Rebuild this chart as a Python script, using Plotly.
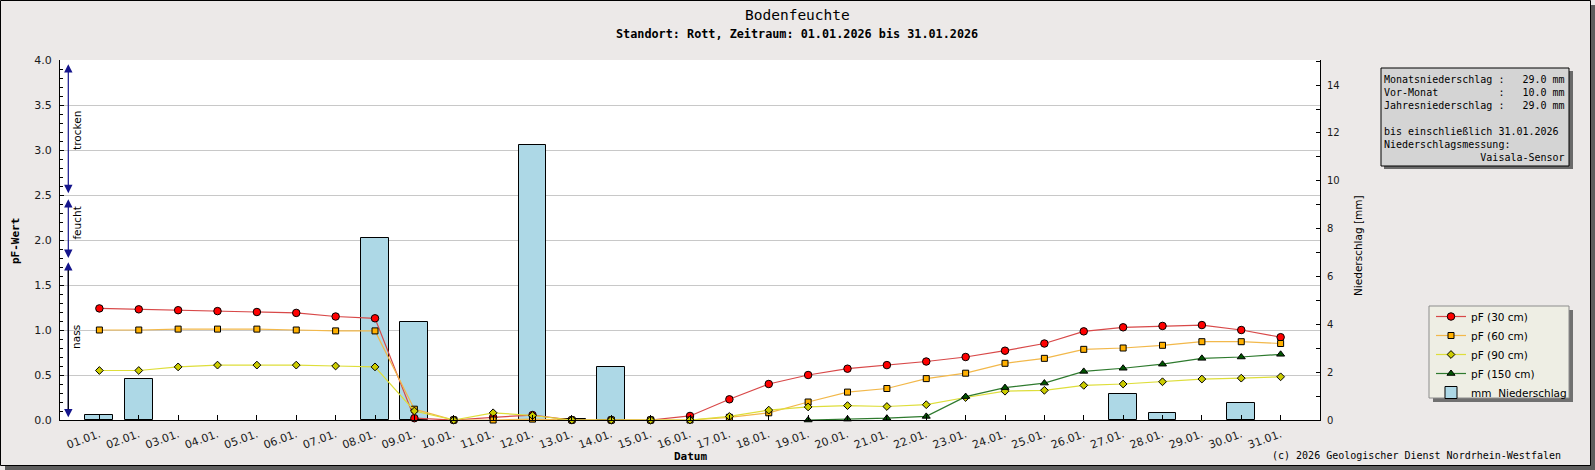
import plotly.graph_objects as go

# ---------------- data ----------------
dates = ["01.01.", "02.01.", "03.01.", "04.01.", "05.01.", "06.01.", "07.01.", "08.01.",
         "09.01.", "10.01.", "11.01.", "12.01.", "13.01.", "14.01.", "15.01.", "16.01.",
         "17.01.", "18.01.", "19.01.", "20.01.", "21.01.", "22.01.", "23.01.", "24.01.",
         "25.01.", "26.01.", "27.01.", "28.01.", "29.01.", "30.01.", "31.01."]

pf30 = [1.24, 1.23, 1.22, 1.21, 1.20, 1.19, 1.15, 1.13, 0.02, 0.00, 0.03, 0.055, 0.00, 0.00, 0.00, 0.045,
        0.23, 0.40, 0.50, 0.57, 0.61, 0.65, 0.70, 0.77, 0.85, 0.985, 1.03, 1.045, 1.055, 1.00, 0.92]
pf60 = [1.00, 1.00, 1.01, 1.01, 1.01, 1.00, 0.99, 0.99, 0.12, 0.00, 0.00, 0.01, 0.00, 0.00, 0.00, 0.00,
        0.03, 0.08, 0.20, 0.31, 0.35, 0.46, 0.52, 0.63, 0.685, 0.785, 0.80, 0.83, 0.87, 0.87, 0.85]
pf90 = [0.55, 0.55, 0.59, 0.61, 0.61, 0.61, 0.60, 0.59, 0.10, 0.00, 0.08, 0.05, 0.00, 0.00, 0.00, 0.00,
        0.04, 0.11, 0.145, 0.16, 0.15, 0.17, 0.25, 0.32, 0.33, 0.385, 0.40, 0.425, 0.455, 0.465, 0.48]
pf150 = [None, None, None, None, None, None, None, None, None, None, None, None, None, None, None, None,
         None, None, 0.00, 0.01, 0.02, 0.04, 0.26, 0.36, 0.41, 0.54, 0.575, 0.62, 0.685, 0.70, 0.73]
precip = [0.2, 1.7, None, None, None, None, None, 7.6, 4.1, None, None, 11.5, 0.05, 2.2, None, None,
          None, None, None, None, None, None, None, None, None, None, 1.1, 0.3, None, 0.7, None]

series_names = ["pF (30 cm)", "pF (60 cm)", "pF (90 cm)", "pF (150 cm)"]
bar_name = "mm\u00a0\u00a0Niederschlag"

info_lines = [
    "Monatsniederschlag :   29.0 mm",
    "Vor-Monat          :   10.0 mm",
    "Jahresniederschlag :   29.0 mm",
    "",
    "bis einschließlich 31.01.2026",
    "Niederschlagsmessung:",
    "                Vaisala-Sensor",
]

# ---------------- geometry helpers ----------------
W, H = 1595, 470
L, R, T, B = 60, 1320, 60, 420


def px(x):
    return (x - L) / (R - L)


def py(y):
    return (B - y) / (B - T)


MONO = "DejaVu Sans Mono"
SANS = "DejaVu Sans"

fig = go.Figure()

styles = [
    ("circle", 7.5, "#ff0000", "#d84848"),
    ("square", 6, "#ffb000", "#f2b84a"),
    ("diamond", 6, "#cccc00", "#dede3a"),
    ("triangle-up", 7, "#005500", "#2e7a2e"),
]
for name, vals, (sym, size, mcol, lcol) in zip(series_names, [pf30, pf60, pf90, pf150], styles):
    fig.add_trace(go.Scatter(
        x=dates, y=vals, name=name, mode="lines+markers", yaxis="y2",
        line=dict(color=lcol, width=1.2),
        marker=dict(symbol=sym, size=size, color=mcol, line=dict(color="black", width=1)),
        cliponaxis=False, connectgaps=False,
    ))

fig.add_trace(go.Bar(
    x=dates, y=precip, name=bar_name, yaxis="y", width=0.71,
    marker=dict(color="#add8e6", line=dict(color="black", width=1)),
))

shapes = []
# outer shadow and frame
shapes.append(dict(type="rect", xref="paper", yref="paper", x0=px(1590), x1=px(1596), y0=py(5), y1=py(471),
                   fillcolor="#5e5e5e", line=dict(width=0), layer="below"))
shapes.append(dict(type="rect", xref="paper", yref="paper", x0=px(5), x1=px(1596), y0=py(465), y1=py(471),
                   fillcolor="#5e5e5e", line=dict(width=0), layer="below"))
shapes.append(dict(type="rect", xref="paper", yref="paper", x0=px(0.5), x1=px(1590.5), y0=py(0.5), y1=py(465.5),
                   line=dict(color="black", width=1), fillcolor="rgba(0,0,0,0)", layer="below"))
# info box
shapes.append(dict(type="rect", xref="paper", yref="paper", x0=px(1384), x1=px(1573), y0=py(71), y1=py(169),
                   fillcolor="#6a6a6a", line=dict(width=0), layer="below"))
shapes.append(dict(type="rect", xref="paper", yref="paper", x0=px(1381), x1=px(1569), y0=py(68), y1=py(166),
                   fillcolor="#d4d4d4", line=dict(color="black", width=1), layer="below"))
# legend box
shapes.append(dict(type="rect", xref="paper", yref="paper", x0=px(1433), x1=px(1573), y0=py(310), y1=py(402),
                   fillcolor="#707070", line=dict(width=0), layer="below"))
shapes.append(dict(type="rect", xref="paper", yref="paper", x0=px(1429), x1=px(1569), y0=py(306), y1=py(398),
                   fillcolor="#eeeee4", line=dict(color="#8c8c8c", width=1), layer="below"))

ann = []
ann.append(dict(text="Bodenfeuchte", xref="paper", yref="paper", x=px(797), y=py(14.5), showarrow=False,
                font=dict(family=MONO, size=14.5, color="black"), xanchor="center", yanchor="middle"))
ann.append(dict(text="<b>Standort: Rott, Zeitraum: 01.01.2026 bis 31.01.2026</b>", xref="paper", yref="paper",
                x=px(797), y=py(34), showarrow=False, font=dict(family=MONO, size=11.8, color="black"),
                xanchor="center", yanchor="middle"))
ann.append(dict(text="<b>pF-Wert</b>", xref="paper", yref="paper", x=px(15), y=py(241), showarrow=False,
                textangle=-90, font=dict(family=MONO, size=11, color="black"), xanchor="center", yanchor="middle"))
ann.append(dict(text="Niederschlag [mm]", xref="paper", yref="paper", x=px(1358), y=py(245), showarrow=False,
                textangle=-90, font=dict(family=SANS, size=10.5, color="black"), xanchor="center", yanchor="middle"))
ann.append(dict(text="<b>Datum</b>", xref="paper", yref="paper", x=px(690), y=py(456), showarrow=False,
                font=dict(family=MONO, size=11, color="black"), xanchor="center", yanchor="middle"))
ann.append(dict(text="(c) 2026 Geologischer Dienst Nordrhein-Westfalen", xref="paper", yref="paper",
                x=px(1563), y=py(455), showarrow=False, font=dict(family=MONO, size=10, color="black"),
                xanchor="right", yanchor="middle"))
ann.append(dict(text="<br>".join(l.replace(" ", "\u00a0") if l else "\u00a0" for l in info_lines),
                xref="paper", yref="paper", x=px(1382), y=py(118), showarrow=False, align="left",
                font=dict(family=MONO, size=10, color="black"), xanchor="left", yanchor="middle"))

# moisture class arrows
AX = px(68.3)
BLUE = "#15158c"
arrow_common = dict(xref="paper", yref="y2", axref="pixel", ayref="y2", ax=0, text="", showarrow=True,
                    arrowhead=2, arrowsize=1.4, arrowwidth=1.2, startarrowhead=2, startarrowsize=1.4,
                    arrowcolor=BLUE)
ann.append(dict(arrow_common, x=AX, y=2.52, ay=3.97, arrowside="end+start"))
ann.append(dict(arrow_common, x=AX, y=1.80, ay=2.47, arrowside="end+start"))
ann.append(dict(arrow_common, x=AX, y=0.03, ay=1.77, arrowside="end+start"))
ann.append(dict(xref="paper", yref="y2", axref="pixel", ayref="y2", ax=0, text="", showarrow=True,
                arrowhead=0, arrowwidth=1.2, arrowcolor="black", x=AX, y=0.12, ay=1.68, arrowside="end"))
for txt, yv in [("trocken", 3.22), ("feucht", 2.19), ("nass", 0.92)]:
    ann.append(dict(text=txt, xref="paper", yref="y2", x=px(76.7), y=yv, showarrow=False, textangle=-90,
                    font=dict(family=SANS, size=10.5, color="black"), xanchor="center", yanchor="middle"))

fig.update_layout(
    width=W, height=H,
    margin=dict(l=L, r=W - R, t=T, b=H - B, pad=0),
    paper_bgcolor="#ece9e8", plot_bgcolor="white",
    showlegend=True,
    legend=dict(x=px(1431), y=py(302), xanchor="left", yanchor="top", bgcolor="rgba(0,0,0,0)",
                borderwidth=0, font=dict(family=SANS, size=10.5, color="black"), traceorder="normal",
                tracegroupgap=0, itemwidth=30),
    xaxis=dict(type="category", range=[-1, 31], tickmode="linear", tick0=0, dtick=1,
               ticks="inside", ticklen=5, tickcolor="black", showline=True, linecolor="black", linewidth=1,
               showgrid=False, zeroline=False, tickangle=-20, ticklabelstandoff=3,
               tickfont=dict(family=SANS, size=11, color="#1a1a1a")),
    yaxis=dict(side="right", range=[0, 15.05], dtick=2, tick0=0, ticks="inside", ticklen=4, tickcolor="black",
               minor=dict(dtick=1, ticks="inside", ticklen=4, tickcolor="black", showgrid=False),
               showline=True, linecolor="black", linewidth=1, showgrid=False, zeroline=False,
               tickfont=dict(family=SANS, size=10, color="#1a1a1a"), ticklabelstandoff=4),
    yaxis2=dict(overlaying="y", side="left", range=[0, 4], dtick=0.5, tick0=0, tickformat=".1f",
                ticks="inside", ticklen=4, tickcolor="black",
                minor=dict(dtick=0.1, ticks="inside", ticklen=3, tickcolor="black", showgrid=False),
                showline=True, linecolor="black", linewidth=1, showgrid=True, gridcolor="#c8c8c8",
                gridwidth=1, zeroline=False,
                tickfont=dict(family=SANS, size=11, color="#1a1a1a"), ticklabelstandoff=5),
    shapes=shapes,
    annotations=ann,
    bargap=0,
)

fig.write_html("out.html", config={"displayModeBar": False},
               post_script="document.body.style.margin='0';document.body.style.overflow='hidden';")
